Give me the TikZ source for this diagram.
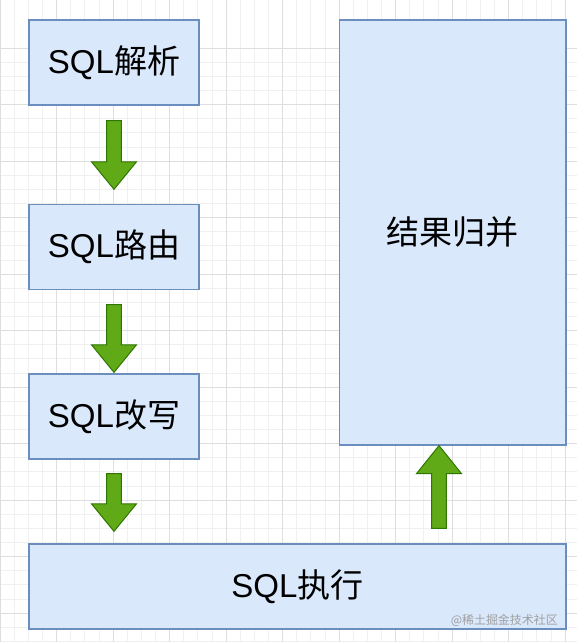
\documentclass[tikz,border=0pt]{standalone}
\usepackage{fontspec}
\setmainfont{Liberation Sans}
\newfontfamily\cjk{Noto Sans CJK SC}
\usepackage{xcolor}
\usetikzlibrary{calc, positioning}
\definecolor{boxfill}{HTML}{DAE8FC}
\definecolor{boxline}{HTML}{6C8EBF}
\definecolor{arrowfill}{HTML}{60A917}
\definecolor{arrowline}{HTML}{2D7600}
\definecolor{gridminor}{HTML}{F0F0F0}
\definecolor{gridmajor}{HTML}{DEDEDE}

\begin{document}
\begin{tikzpicture}[
  x=0.025cm, y=0.025cm,
  every node/.style={font=\fontsize{23.5pt}{28pt}\selectfont},
  stage/.style={draw=boxline, fill=boxfill, line width=0.9pt, minimum width=170*0.025cm, minimum height=85*0.025cm, inner sep=0pt},
  downfat/.style={draw=arrowline, fill=arrowfill, line width=0.7pt, to path={
    let \p1=(\tikztostart), \p2=(\tikztotarget) in
    (\x1-5.3pt,\y1) -- (\x1-5.3pt,\y2+19.6pt) -- (\x1-16pt,\y2+19.6pt) -- (\x1,\y2)
    -- (\x1+16pt,\y2+19.6pt) -- (\x1+5.3pt,\y2+19.6pt) -- (\x1+5.3pt,\y1) -- cycle}},
  upfat/.style={draw=arrowline, fill=arrowfill, line width=0.7pt, to path={
    let \p1=(\tikztostart), \p2=(\tikztotarget) in
    (\x1-5.3pt,\y1) -- (\x1-5.3pt,\y2-19.9pt) -- (\x1-16pt,\y2-19.9pt) -- (\x1,\y2)
    -- (\x1+16pt,\y2-19.9pt) -- (\x1+5.3pt,\y2-19.9pt) -- (\x1+5.3pt,\y1) -- cycle}},
  watermark/.style={font=\fontsize{8.5pt}{10pt}\selectfont\cjk, text=gray!75, inner sep=0pt}
]
  \fill[white] (0,0) rectangle (577,642);
  \useasboundingbox (0,0) rectangle (577,642);

  % grid
  \foreach \i in {0,...,41} {
    \draw[gridminor, line width=0.5pt] (\i*14.125,0) -- (\i*14.125,642);
    \draw[gridminor, line width=0.5pt] (0,0.75+\i*14.125) -- (577,0.75+\i*14.125);
  }
  \foreach \i in {0,...,10} {
    \draw[gridmajor, line width=0.6pt] (\i*56.5,0) -- (\i*56.5,642);
    \draw[gridmajor, line width=0.6pt] (0,29+\i*56.5) -- (577,29+\i*56.5);
  }

  \node[stage] (parse) at (114,579.5) {SQL{\cjk 解析}};
  \node[stage] (route) at (114,395) {SQL{\cjk 路由}};
  \node[stage] (rewrite) at (114,225.5) {SQL{\cjk 改写}};
  \node[stage, minimum width=537*0.025cm] (execute) at (297.5,55.5) {SQL{\cjk 执行}};
  \node[stage, minimum width=226.5*0.025cm, minimum height=425*0.025cm] (merge) at (452.75,409.5) {\cjk 结果归并};

  \draw[downfat] ($(parse.south)+(0,-15)$) to ($(route.north)+(0,14.5)$);
  \draw[downfat] ($(route.south)+(0,-14.5)$) to ($(rewrite.north)+(0,1)$);
  \draw[downfat] ($(rewrite.south)+(0,-14)$) to ($(execute.north)+(0,12)$);
  \draw[upfat] ($(execute.north)+(141.5,15)$) to ($(merge.south)+(-13.75,0)$);

  \node[watermark, anchor=east] (wm) at (558,22) {@稀土掘金技术社区};
\end{tikzpicture}
\end{document}
